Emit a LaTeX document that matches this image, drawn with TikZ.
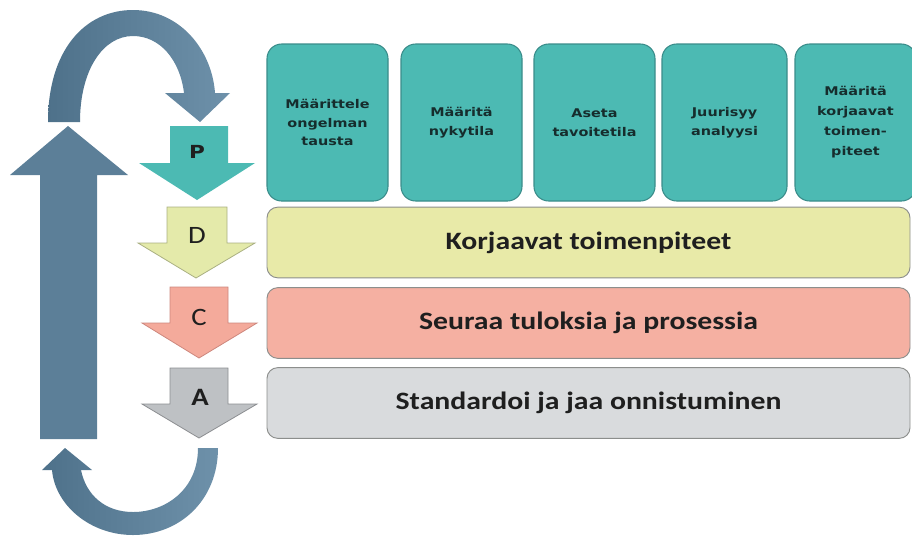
\documentclass[tikz,border=0pt]{standalone}
\usepackage{fontspec}
\setmainfont{Carlito}
\newfontfamily\dvs{DejaVu Sans}
\definecolor{tealc}{RGB}{76,186,179}
\definecolor{tealb}{RGB}{58,140,138}
\definecolor{tealtext}{RGB}{22,45,45}
\definecolor{yellowc}{RGB}{232,234,168}
\definecolor{pinkc}{RGB}{245,176,162}
\definecolor{grayc}{RGB}{217,219,221}
\definecolor{barb}{RGB}{140,142,140}
\definecolor{blueL}{RGB}{78,113,138}
\definecolor{blueR}{RGB}{110,145,170}
\definecolor{blueM}{RGB}{92,127,152}
\definecolor{arrD}{RGB}{228,234,170}
\definecolor{arrDb}{RGB}{170,176,130}
\definecolor{arrC}{RGB}{244,170,155}
\definecolor{arrCb}{RGB}{205,135,125}
\definecolor{arrA}{RGB}{190,193,196}
\definecolor{arrAb}{RGB}{140,142,145}
\begin{document}
\begin{tikzpicture}[x=0.75pt,y=-0.75pt,
  tbox/.style={draw=tealb, fill=tealc, rounded corners=11pt, line width=0.8pt,
    minimum width=90.75pt, minimum height=117.75pt, inner sep=0pt,
    font=\dvs\bfseries\fontsize{9}{14}\selectfont, text=tealtext, align=center},
  bar/.style={draw=barb, rounded corners=8pt, line width=0.7pt,
    minimum width=482.25pt, minimum height=53pt, inner sep=0pt,
    font=\bfseries\fontsize{18.75}{22}\selectfont, text=black!88},
  letter/.style={font=\fontsize{18.75}{22}\selectfont, text=black!88, inner sep=0pt},
  cyc/.style={left color=blueL, right color=blueR, draw=none}
]
\useasboundingbox (0,0) rectangle (912,536);

% teal boxes
\node[tbox] (t1) at (327.5,122.5) {\scalebox{1.2}[1]{Määrittele}\\\scalebox{1.2}[1]{ongelman}\\\scalebox{1.2}[1]{tausta}};
\node[tbox] (t2) at (461.5,122.5) {\scalebox{1.2}[1]{Määritä}\\\scalebox{1.2}[1]{nykytila}};
\node[tbox] (t3) at (594.5,122.5) {\scalebox{1.2}[1]{Aseta}\\\scalebox{1.2}[1]{tavoitetila}};
\node[tbox, minimum width=93.75pt] (t4) at (724.5,122.5) {\scalebox{1.2}[1]{Juurisyy}\\\scalebox{1.2}[1]{analyysi}};
\node[tbox, font=\dvs\bfseries\fontsize{9}{15}\selectfont] (t5) at (855.5,122.5) {\scalebox{1.2}[1]{Määritä}\\\scalebox{1.2}[1]{korjaavat}\\\scalebox{1.2}[1]{toimen-}\\\scalebox{1.2}[1]{piteet}};

% bars
\node[bar, fill=yellowc] (bD) at (588.5,242.5) {\scalebox{1.19}[1]{Korjaavat toimenpiteet}};
\node[bar, fill=pinkc] (bC) at (588.5,323) {\scalebox{1.19}[1]{Seuraa tuloksia ja prosessia}};
\node[bar, fill=grayc] (bA) at (588.5,403) {\scalebox{1.19}[1]{Standardoi ja jaa onnistuminen}};

% PDCA arrows
\fill[tealc] (170,126) -- (228,126) -- (228,163) -- (255,163) -- (197,200) -- (139,163) -- (170,163) -- cycle;
\draw[arrDb, fill=arrD, line width=0.6pt] (167,207) -- (227,207) -- (227,243) -- (255,243) -- (196,278) -- (138,243) -- (167,243) -- cycle;
\draw[arrCb, fill=arrC, line width=0.6pt] (170,287) -- (228,287) -- (228,323) -- (257,323) -- (199,358) -- (142,323) -- (170,323) -- cycle;
\draw[arrAb, fill=arrA, line width=0.6pt] (170,368) -- (228,368) -- (228,404) -- (257,404) -- (199,438) -- (142,404) -- (170,404) -- cycle;

\node[font=\dvs\bfseries\fontsize{13.5}{15}\selectfont, text=black!88, inner sep=0pt] (lP) at (197,152) {\scalebox{1.2}[1]{P}};
\node[letter] (lD) at (197,235) {\scalebox{1.15}[1]{D}};
\node[letter] (lC) at (199,317) {\scalebox{1.15}[1]{C}};
\node[letter, font=\bfseries\fontsize{18.75}{22}\selectfont] (lA) at (200,397) {\scalebox{1.15}[1]{A}};

% big up arrow
\fill[blueM] (40,439) -- (40,175) -- (10,175) -- (68,126) -- (128,175) -- (97,175) -- (97,439) -- cycle;

% top curved arrow
\shade[cyc] (48,122) .. controls (48,50) and (85,10) .. (133,10)
  .. controls (180,10) and (212,50) .. (215,93) -- (230,93) -- (200,122) -- (165,93) -- (184,93)
  .. controls (180,60) and (160,36) .. (133,36)
  .. controls (103,36) and (80,70) .. (80,122) -- cycle;

% bottom curved arrow
\shade[cyc] (218,448) .. controls (218,500) and (180,535) .. (133,535)
  .. controls (90,535) and (55,505) .. (52,470) -- (42,470) -- (65,448) -- (92,470) -- (81,470)
  .. controls (86,495) and (105,512) .. (133,512)
  .. controls (165,512) and (198,490) .. (198,448) -- cycle;
\end{tikzpicture}
\end{document}
